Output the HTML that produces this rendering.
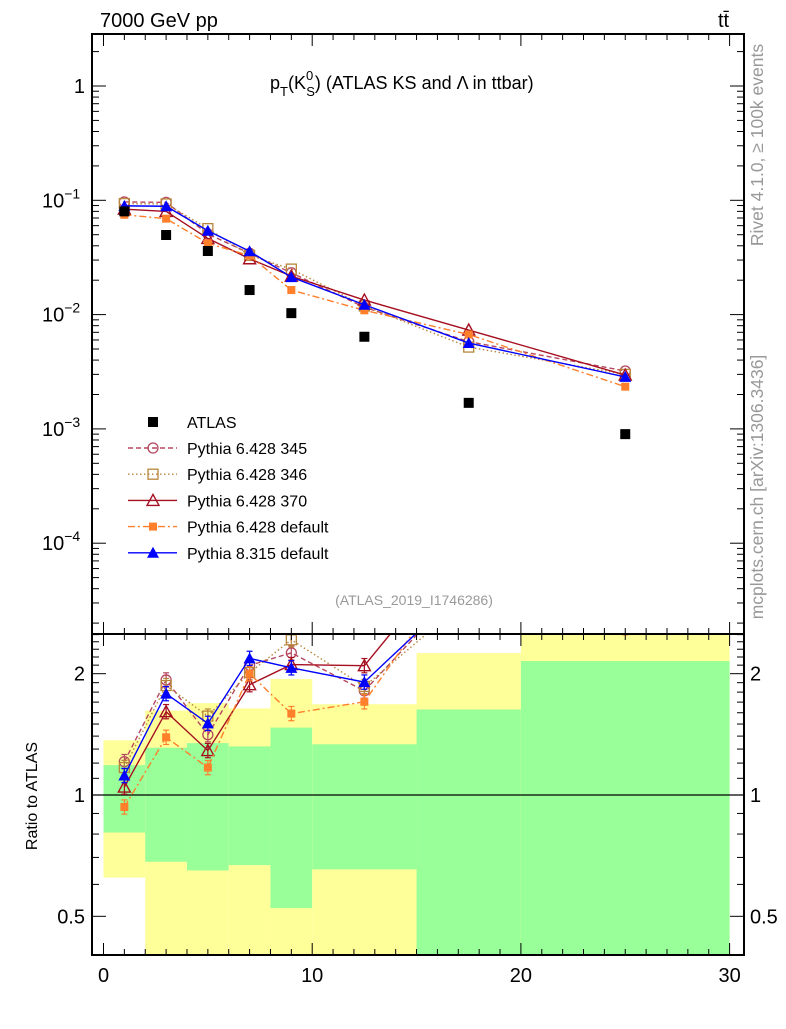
<!DOCTYPE html>
<html><head><meta charset="utf-8"><style>
body{margin:0;background:#fff;}
svg text{font-family:"Liberation Sans",sans-serif;}
</style></head><body>
<svg id="c" width="786" height="1024" viewBox="0 0 786 1024" xmlns="http://www.w3.org/2000/svg"></svg>
<script>
const xCenters=[1,3,5,7,9,12.5,17.5,25];
const binEdges=[0,2,4,6,8,10,15,20,30];
const atlas=[0.080,0.0497,0.036,0.0164,0.0103,0.0064,0.00169,0.0009];
const p345=[0.0968,0.0959,0.0508,0.0344,0.0232,0.0116,0.0058,0.00321];
const p346=[0.0936,0.0929,0.0565,0.033,0.025,0.0119,0.0052,0.0030];
const p370=[0.0837,0.080,0.0464,0.0308,0.0217,0.0134,0.00733,0.00296];
const pdef=[0.0747,0.0691,0.0421,0.0328,0.0164,0.0109,0.0067,0.00234];
const p8=[0.0894,0.0887,0.0542,0.0358,0.0213,0.0122,0.00564,0.00285];
const yellowHi=[1.367,1.62,1.69,1.64,1.94,1.68,2.25,2.8];
const greenHi=[1.186,1.31,1.345,1.32,1.47,1.336,1.63,2.15];
const greenLo=[0.807,0.683,0.65,0.67,0.524,0.654,0.3,0.3];
const yellowLo=[0.624,0.3,0.3,0.3,0.3,0.3,0.3,0.3];
const mainTicks=["1","10","10","10","10"];
const mainExp=["","−1","−2","−3","−4"];
const ratioTicks=[2,1,0.5];
const xTicks=[0,10,20,30];

const NS="http://www.w3.org/2000/svg";
const svg=document.getElementById('c');
const L=92,R=744,T=34,MB=634,RB=955;
const X=v=>103.5+(v)*20.87;
const Y=v=>86-Math.log10(v)*114.3;
const RY=v=>795-Math.log10(v)*403;
function mk(tag,a,parent){const e=document.createElementNS(NS,tag);for(const k in a)e.setAttribute(k,a[k]);(parent||svg).appendChild(e);return e;}
function txt(s,x,y,a,parent){const e=mk('text',Object.assign({x:x,y:y},a),parent);e.textContent=s;return e;}

const defs=mk('defs',{});
const c1=mk('clipPath',{id:'cm'},defs);mk('rect',{x:L,y:T,width:R-L,height:MB-T},c1);
const c2=mk('clipPath',{id:'cr'},defs);mk('rect',{x:L,y:MB,width:R-L,height:RB-MB},c2);

const gb=mk('g',{'clip-path':'url(#cr)'});

for(let i=0;i<binEdges.length-1;i++){
  const x0=X(binEdges[i]),x1=X(binEdges[i+1]);
  let r=mk('rect',{x:x0,y:RY(yellowHi[i]),width:x1-x0,height:RY(yellowLo[i])-RY(yellowHi[i]),fill:'#ffff99'},gb);
  
  r=mk('rect',{x:x0,y:RY(greenHi[i]),width:x1-x0,height:RY(greenLo[i])-RY(greenHi[i]),fill:'#99ff99'},gb);
  
}
mk('line',{x1:L,x2:R,y1:RY(1),y2:RY(1),stroke:'#000','stroke-width':1.2});

const series=[
 {n:'pythia-6428-345',d:p345,c:'#b5475e',dash:'5,3',m:'circle',label:'Pythia 6.428 345'},
 {n:'pythia-6428-346',d:p346,c:'#b8863b',dash:'1.5,2.5',m:'square',label:'Pythia 6.428 346'},
 {n:'pythia-6428-370',d:p370,c:'#a50f20',dash:'',m:'tri',label:'Pythia 6.428 370'},
 {n:'pythia-6428-default',d:pdef,c:'#ff7f2a',dash:'7,3,2,3',m:'fsquare',label:'Pythia 6.428 default'},
 {n:'pythia-8315-default',d:p8,c:'#0000ff',dash:'',m:'ftri',label:'Pythia 8.315 default'}];

function marker(m,x,y,c,g,s){
  s=s||1;
  if(m==='circle')return mk('circle',{cx:x,cy:y,r:5*s,fill:'none',stroke:c,'stroke-width':1.3},g);
  if(m==='square')return mk('rect',{x:x-5*s,y:y-5*s,width:10*s,height:10*s,fill:'none',stroke:c,'stroke-width':1.3},g);
  if(m==='fsquare')return mk('rect',{x:x-4*s,y:y-4*s,width:8*s,height:8*s,fill:c},g);
  if(m==='tri')return mk('polygon',{points:`${x},${y-6*s} ${x-6*s},${y+5*s} ${x+6*s},${y+5*s}`,fill:'none',stroke:c,'stroke-width':1.4},g);
  if(m==='ftri')return mk('polygon',{points:`${x},${y-6*s} ${x-6*s},${y+5*s} ${x+6*s},${y+5*s}`,fill:c},g);
}

const gm=mk('g',{'clip-path':'url(#cm)'});

const gr=mk('g',{'clip-path':'url(#cr)'});

series.forEach(s=>{
  const pts=s.d.map((v,i)=>X(xCenters[i])+','+Y(v)).join(' ');
  let pl=mk('polyline',{points:pts,fill:'none',stroke:s.c,'stroke-width':1.4,'stroke-dasharray':s.dash},gm);
  
  const rp=s.d.map((v,i)=>X(xCenters[i])+','+RY(v/atlas[i])).join(' ');
  pl=mk('polyline',{points:rp,fill:'none',stroke:s.c,'stroke-width':1.4,'stroke-dasharray':s.dash},gr);
  
  s.d.forEach((v,i)=>{
    const x=X(xCenters[i]);
    let e=marker(s.m,x,Y(v),s.c,gm);
    
    const r=v/atlas[i],y=RY(r),ey=RY(r*0.96)-y;
    mk('line',{x1:x,x2:x,y1:y-ey,y2:y+ey,stroke:s.c,'stroke-width':1.2},gr);
    mk('line',{x1:x-3,x2:x+3,y1:y-ey,y2:y-ey,stroke:s.c,'stroke-width':1.2},gr);
    mk('line',{x1:x-3,x2:x+3,y1:y+ey,y2:y+ey,stroke:s.c,'stroke-width':1.2},gr);
    e=marker(s.m,x,y,s.c,gr);
    
  });
});
atlas.forEach((v,i)=>{
  const e=mk('rect',{x:X(xCenters[i])-5,y:Y(v)-5,width:10,height:10,fill:'#000'},gm);
  
});

let f=mk('rect',{x:L,y:T,width:R-L,height:MB-T,fill:'none',stroke:'#000','stroke-width':2});

f=mk('rect',{x:L,y:MB,width:R-L,height:RB-MB,fill:'none',stroke:'#000','stroke-width':2});


for(let v=0;v<=30;v++){
  const x=X(v),big=v%10===0,h=big?12:6;
  [[T,1],[MB,1],[MB,-1],[RB,-1]].forEach(([y0,d])=>mk('line',{x1:x,x2:x,y1:y0,y2:y0+d*h,stroke:'#000','stroke-width':1}));
}
xTicks.forEach(v=>{const t=txt(String(v),X(v),982,{'font-size':20,'text-anchor':'middle'});});

for(let d=-5;d<=0;d++){for(let k=1;k<10;k++){const v=k*Math.pow(10,d),y=Y(v);if(y<T||y>MB)continue;const h=k===1?14:7;
  mk('line',{x1:L,x2:L+h,y1:y,y2:y,stroke:'#000'});mk('line',{x1:R,x2:R-h,y1:y,y2:y,stroke:'#000'});}}
mainTicks.forEach((s,i)=>{
  const y=Y(Math.pow(10,-i));
  const t=txt(s,i?62:85,y+7,{'font-size':20,'text-anchor':i?'start':'end'});
  
  if(i){const ts=mk('tspan',{dy:-9,'font-size':14},t);ts.textContent=mainExp[i];t.setAttribute('x',42);}
});

[0.4,0.5,0.6,0.7,0.8,0.9,1,1.1,1.2,1.3,1.4,1.5,1.6,1.7,1.8,1.9,2,2.1,2.2,2.3,2.4,2.5].forEach(v=>{
  const y=RY(v);if(y<MB||y>RB)return;const big=(v===0.5||v===1||v===2),h=big?14:7;
  mk('line',{x1:L,x2:L+h,y1:y,y2:y,stroke:'#000'});mk('line',{x1:R,x2:R-h,y1:y,y2:y,stroke:'#000'});
});
ratioTicks.forEach(v=>{
  let t=txt(String(v),85,RY(v)+7,{'font-size':20,'text-anchor':'end'});
  t=txt(String(v),750,RY(v)+7,{'font-size':20});
});

let t=txt('7000 GeV pp',100,27,{'font-size':20});
t=txt('tt̄',718,27,{'font-size':20});
t=txt('',270,89,{'font-size':18});
t.innerHTML='p<tspan dy="7" font-size="13">T</tspan><tspan dy="-7">(K</tspan><tspan dy="-9" font-size="13">0</tspan><tspan dx="-7" dy="16" font-size="13">S</tspan><tspan dy="-7">) (ATLAS KS and Λ in ttbar)</tspan>';
t=txt('(ATLAS_2019_I1746286)',414,605,{'font-size':14,fill:'#999','text-anchor':'middle'});
t=txt('Ratio to ATLAS',0,0,{'font-size':16,'text-anchor':'middle',transform:'translate(37,796) rotate(-90)'});
t=txt('Rivet 4.1.0, ≥ 100k events',0,0,{'font-size':17.5,fill:'#999','text-anchor':'middle',transform:'translate(763,145) rotate(-90)'});
t=txt('mcplots.cern.ch [arXiv:1306.3436]',0,0,{'font-size':17.5,fill:'#999','text-anchor':'middle',transform:'translate(763,487) rotate(-90)'});

const lg=mk('g',{});
let ly=422;
mk('rect',{x:148,y:ly-5,width:10,height:10,fill:'#000'},lg);
t=txt('ATLAS',187,ly+6,{'font-size':16},lg);
series.forEach((s,i)=>{
  const y=448+i*26.2;
  mk('line',{x1:128,x2:177,y1:y,y2:y,stroke:s.c,'stroke-width':1.4,'stroke-dasharray':s.dash},lg);
  marker(s.m,153,y,s.c,lg);
  const tt=txt(s.label,187,y+6,{'font-size':16},lg);
  
  
});
</script>
</body></html>
